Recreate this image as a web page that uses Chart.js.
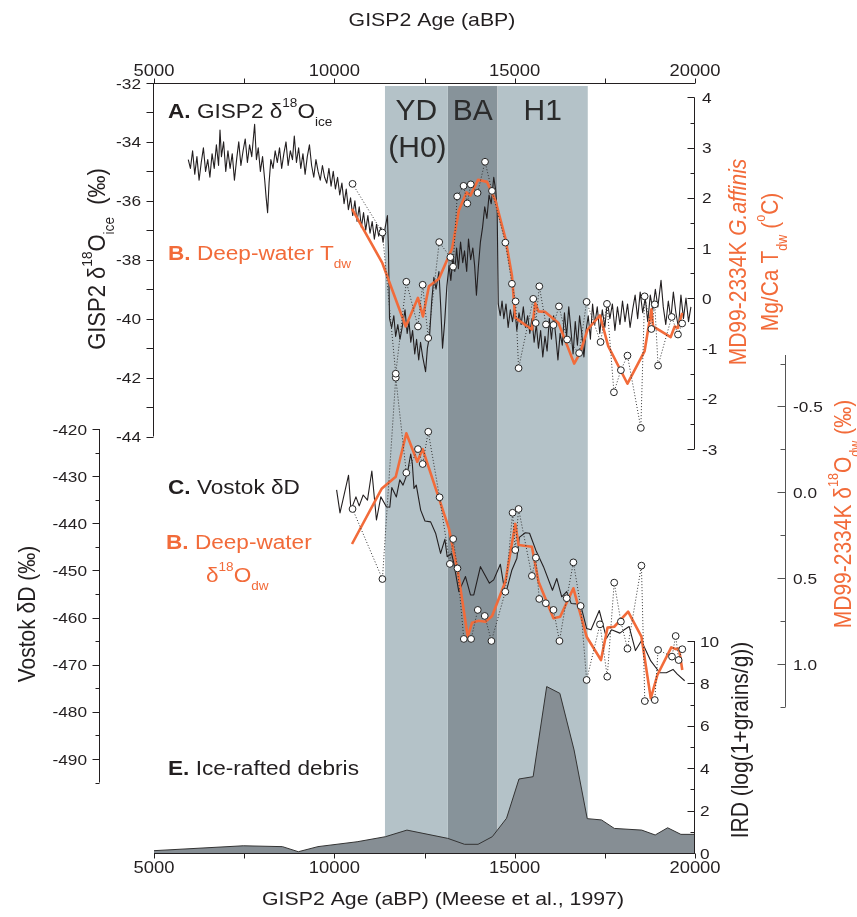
<!DOCTYPE html>
<html><head><meta charset="utf-8">
<script src="https://cdn.jsdelivr.net/npm/chart.js@4.4.1/dist/chart.umd.min.js"></script>
<style>html,body{margin:0;padding:0;background:#fff;}canvas{display:block;}</style>
</head><body>
<canvas id="c" width="857" height="917"></canvas>
<script>
// ---------------- DATA ----------------
const gisp2Age = [5950,6010,6070,6130,6190,6250,6310,6370,6430,6490,6550,6610,6670,6730,6790,6830,6870,6930,6990,7050,7110,7170,7230,7290,7350,7410,7470,7530,7590,7650,7710,7790,7840,7890,7950,8010,8070,8110,8150,8190,8240,8300,8360,8420,8480,8540,8600,8660,8720,8780,8840,8890,8950,9010,9070,9130,9190,9250,9310,9370,9430,9490,9550,9610,9670,9730,9790,9850,9910,9970,10030,
10090,10150,10210,10270,10330,10390,10450,10510,10570,10630,10690,10750,10810,10870,10930,10990,11050,11110,11170,11230,11290,11350,11410,
11472,11500,11530,11590,11650,11700,11760,11820,11880,11960,12020,12070,12120,12170,12230,12280,12340,12390,12450,12530,12580,12640,12700,12760,12820,12900,12950,13000,13060,13120,13180,13230,13290,13340,13390,13440,13500,13560,13610,13670,13720,13780,13840,13890,13940,13990,14050,14110,14170,14230,14290,14350,14420,14470,14515,14545,
14600,14650,14700,14760,14820,14880,14940,15000,15060,15120,15180,15240,15300,15360,15420,15480,15540,15600,15660,15720,15780,15840,15900,15960,16020,16080,16140,16200,16260,16320,16380,16440,16500,16560,16620,16680,16740,16800,16860,16920,16980,17040,17100,17160,17220,17290,17360,17430,17500,17570,17640,17710,17780,17850,17920,17990,18060,18130,18200,18270,18340,18410,18480,18550,18620,18690,18760,18830,18900,18970,19058,19120,19190,19260,19330,19400,19470,19540,19610,19680,19750,19820,19887];
const gisp2D18O = [-34.6,-34.9,-34.3,-35.1,-34.5,-35.3,-34.7,-34.2,-35.0,-34.6,-35.2,-34.4,-34.9,-34.1,-34.8,-33.6,-34.5,-34.0,-35.0,-34.3,-34.9,-34.4,-35.3,-34.6,-34.0,-34.8,-34.3,-33.9,-34.7,-34.1,-34.5,-33.4,-34.6,-34.2,-35.0,-34.5,-35.3,-35.9,-36.4,-35.4,-34.6,-34.9,-34.3,-34.7,-34.2,-34.9,-34.4,-34.0,-34.8,-34.3,-34.6,-33.8,-34.7,-34.2,-34.9,-34.4,-35.1,-34.5,-34.1,-34.8,-35.2,-34.6,-35.0,-35.3,-34.8,-35.2,-35.4,-34.9,-35.5,-35.0,-35.6,
-35.2,-35.8,-35.4,-36.1,-35.6,-36.3,-35.9,-36.5,-36.0,-36.7,-36.2,-36.9,-36.4,-37.0,-36.5,-37.1,-36.7,-37.3,-36.8,-37.2,-36.9,-37.4,-36.9,
-36.5,-37.6,-40.0,-40.3,-39.9,-40.6,-40.2,-40.7,-40.3,-39.7,-40.5,-40.1,-40.8,-40.4,-41.2,-40.7,-41.4,-40.8,-41.3,-41.8,-41.0,-40.6,-39.4,-38.6,-39.0,-38.4,-39.6,-41.0,-40.1,-38.9,-38.2,-38.7,-37.9,-38.4,-37.6,-38.3,-37.4,-38.1,-37.7,-38.4,-37.3,-38.0,-37.6,-38.2,-39.2,-38.3,-37.4,-36.9,-36.2,-36.6,-35.8,-36.1,-35.2,-35.6,-36.3,-39.5,
-39.9,-39.4,-40.0,-39.5,-40.3,-39.7,-40.1,-39.6,-40.4,-39.8,-40.2,-39.6,-40.3,-39.9,-40.5,-40.0,-40.8,-40.2,-41.0,-40.4,-41.3,-40.6,-41.1,-40.0,-40.7,-39.9,-40.6,-41.4,-40.5,-40.9,-39.8,-40.6,-39.6,-40.4,-41.2,-40.1,-40.9,-39.9,-40.5,-41.3,-40.4,-39.9,-40.7,-39.5,-40.2,-39.6,-40.5,-39.7,-40.3,-39.4,-40.0,-39.5,-40.4,-39.6,-40.2,-39.4,-40.1,-39.5,-40.3,-39.7,-39.2,-40.0,-39.1,-39.8,-39.3,-40.1,-39.2,-39.7,-39.0,-39.6,-38.7,-39.6,-40.2,-39.4,-40.0,-39.1,-39.8,-40.3,-39.2,-40.0,-39.3,-40.1,-39.6];

const vostokAge = [10063,10157,10322,10394,10460,10599,10690,10800,10919,11040,11168,11289,11444,11538,11593,11720,11814,11905,12024,12118,12162,12209,12272,12394,12513,12670,12808,12946,13065,13129,13250,13314,13452,13637,13775,13866,14051,14300,14418,14603,14742,14924,15062,15128,15294,15413,15587,15799,16048,16167,16305,16443,16565,16719,16841,16995,17117,17346,17548,17686,17918,18037,18175,18349,18514,18774,19023,19205,19390,19509,19713];
const vostokDD = [-432.9,-437.8,-432.2,-429.8,-437.2,-434.4,-436.3,-434.0,-435.1,-428.9,-439.3,-434.4,-436.5,-436.6,-432.4,-434.4,-430.8,-431.9,-429.4,-425.3,-427.3,-432.6,-431.9,-437.2,-439.5,-439.7,-442.1,-446.4,-443.4,-447.1,-446.4,-448.5,-454.5,-451.3,-455.2,-455.2,-449.2,-452.7,-452.0,-448.7,-455.2,-449.9,-447.4,-443.0,-442.0,-442.1,-445.7,-449.2,-454.2,-451.7,-455.6,-454.5,-457.0,-457.1,-457.7,-462.3,-462.6,-458.5,-464.4,-462.6,-463.3,-462.6,-461.9,-467.0,-464.9,-469.2,-471.7,-471.7,-471.0,-472.0,-473.4];

const tdwAge = [10505,11333,11703,11996,12319,12449,12604,12908,13217,13292,13405,13584,13687,13783,13971,14178,14371,14742,14924,15026,15109,15515,15584,15683,15868,16076,16228,16454,16788,16995,17382,17559,17752,17945,18128,18498,18603,18791,18885,18976,19354,19528,19644];
const tdwVal = [2.28,1.31,-1.50,0.33,-0.56,0.27,-0.79,1.12,0.82,0.63,2.03,2.24,1.89,2.27,2.10,2.72,2.14,1.11,0.29,-0.06,-1.39,-0.01,-0.49,0.24,-0.52,-0.53,-0.16,-0.82,-1.09,-0.07,-0.87,-0.11,-1.87,-1.43,-1.14,-2.58,0.04,-0.61,-0.12,-1.34,-0.37,-0.72,-0.50];

const tdwSmoothAge = [10490,11333,11980,12319,12457,12623,12900,13268,13452,13664,13775,13985,14233,14465,14741,14925,15017,15478,15571,15662,15847,16214,16650,16812,17022,17365,17594,18128,18603,18791,18838,19326,19437,19528,19644];
const tdwSmoothVal = [1.78,0.70,-0.56,0.01,-0.36,0.24,0.39,1.00,1.75,2.11,2.05,2.36,2.32,1.95,1.20,0.45,-0.39,-0.62,-0.10,-0.26,-0.27,-0.49,-1.30,-1.09,-0.62,-0.34,-0.95,-1.70,-1.05,-0.22,-0.56,-0.77,-0.56,-0.59,-0.29];

const d18Age = [10505,11333,11703,11996,12319,12449,12604,12918,13203,13295,13414,13590,13792,13977,14170,14355,14741,14942,15017,15109,15478,15588,15681,15864,16076,16242,16443,16628,16829,16995,17365,17567,17760,17945,18128,18515,18608,18885,18976,19362,19464,19547,19647];
const d18Val = [0.097,0.505,-0.668,-0.114,-0.252,-0.165,-0.353,0.029,0.417,0.272,0.443,0.854,0.854,0.685,0.720,0.866,0.579,0.119,0.336,0.097,0.487,0.381,0.621,0.646,0.685,0.866,0.617,0.408,0.662,1.093,0.769,1.074,0.526,0.753,0.911,0.427,1.216,1.210,0.918,0.957,0.837,0.977,0.914];

const d18SmoothAge = [10490,11318,11703,11996,12300,12449,13176,13433,13700,13819,14004,14190,14374,14742,15017,15109,15478,15662,16076,16261,16628,16995,17393,17576,17760,18146,18515,18774,18957,19342,19482,19556,19647];
const d18SmoothVal = [0.301,-0.023,-0.091,-0.344,-0.178,-0.252,0.210,0.472,0.841,0.759,0.748,0.754,0.720,0.521,0.184,0.307,0.317,0.521,0.734,0.725,0.559,0.841,0.977,0.788,0.783,0.695,0.841,1.200,1.064,0.903,0.914,0.909,1.035];

const irdAge = [5000,7475,8560,9002,9546,10632,11419,12013,13145,13610,13985,14380,14775,15120,15512,15888,16253,16647,17012,17407,17763,18523,18896,19241,19608,20000];
const irdVal = [0.11,0.34,0.30,0.06,0.30,0.53,0.77,1.08,0.69,0.41,0.41,0.77,1.64,3.49,3.60,7.85,7.53,4.86,1.62,1.56,1.16,1.08,0.85,1.19,0.88,0.88];

const bandNames = ['YD', 'BA', 'H1'];
const bandStart = [11400, 13150, 14530];
const bandEnd = [13150, 14530, 17030];

const xTicks = [5000, 7500, 10000, 12500, 15000, 17500, 20000];
const xTickLabels = ['5000', '', '10000', '', '15000', '', '20000'];
const gisp2Ticks = [-32, -34, -36, -38, -40, -42, -44];
const gisp2Minor = [-33, -35, -37, -39, -41, -43];
const tdwTicks = [4, 3, 2, 1, 0, -1, -2, -3];
const tdwMinor = [3.5, 2.5, 1.5, 0.5, -0.5, -1.5, -2.5];
const d18Ticks = [-0.5, 0.0, 0.5, 1.0];
const d18TickLabels = ['-0.5', '0.0', '0.5', '1.0'];
const d18Minor = [-0.75, -0.25, 0.25, 0.75, 1.25];
const vostokTicks = [-420, -430, -440, -450, -460, -470, -480, -490];
const vostokMinor = [-425, -435, -445, -455, -465, -475, -485, -495];
const irdTicks = [0, 2, 4, 6, 8, 10];
const irdMinor = [1, 3, 5, 7, 9];

// ---------------- LAYOUT / STYLE ----------------
const W = 857, H = 917;
const TOP = 83, BOTTOM = 853, LEFT = 154, RIGHT = 695;
const INK = '#231f20';
const ORANGE = '#f26b3a';
const FONT = '"Liberation Sans", Arial, Helvetica, sans-serif';
const BAND_COLORS = ['#b4c2c8', '#87939a', '#b4c2c8'];

function rangeFor(v1, p1, v2, p2) {
  const k = (v2 - v1) / (p2 - p1);
  const a = v1 + (TOP - p1) * k, b = v1 + (BOTTOM - p1) * k;
  return { min: Math.min(a, b), max: Math.max(a, b), reverse: k > 0 };
}
const pts = (xs, ys) => xs.map((x, i) => ({ x: x, y: ys[i] }));

function rich(ctx, parts, x, y, o) {
  const size = o.size, sx = o.sx || 1, ss = o.ss || 0.6;
  const fontOf = p => {
    const sz = (p.sub || p.sup) ? size * ss : size;
    return (p.italic ? 'italic ' : '') + (p.bold ? 'bold ' : '') + sz + 'px ' + FONT;
  };
  ctx.save();
  ctx.translate(x, y);
  ctx.scale(sx, 1);
  if (o.rot) ctx.rotate(o.rot);
  let w = 0;
  parts.forEach(p => { ctx.font = fontOf(p); p.w = ctx.measureText(p.t).width; w += p.w; });
  let cx = o.align === 'center' ? -w / 2 : (o.align === 'right' ? -w : 0);
  ctx.textAlign = 'left';
  ctx.textBaseline = 'alphabetic';
  parts.forEach(p => {
    ctx.font = fontOf(p);
    ctx.fillStyle = p.color || o.color || INK;
    const dy = p.sup ? -size * 0.55 : (p.sub ? size * 0.38 : 0);
    ctx.fillText(p.t, cx, dy);
    cx += p.w;
  });
  ctx.restore();
}
function txt(ctx, s, x, y, o) { rich(ctx, [{ t: s }], x, y, o); }

function drawYAxis(ctx, sc, o) {
  ctx.save();
  ctx.strokeStyle = o.color || INK;
  ctx.lineWidth = 1;
  ctx.beginPath();
  ctx.moveTo(o.x, sc.getPixelForValue(o.from));
  ctx.lineTo(o.x, sc.getPixelForValue(o.to));
  o.minors.forEach(v => {
    const py = Math.round(sc.getPixelForValue(v)) + 0.5;
    ctx.moveTo(o.x, py); ctx.lineTo(o.x + o.dir * o.minLen, py);
  });
  o.majors.forEach(v => {
    const py = Math.round(sc.getPixelForValue(v)) + 0.5;
    ctx.moveTo(o.x, py); ctx.lineTo(o.x + o.dir * o.majLen, py);
  });
  ctx.stroke();
  ctx.restore();
  o.majors.forEach((v, i) => {
    const lab = o.labels ? o.labels[i] : String(v);
    txt(ctx, lab, o.labelX, sc.getPixelForValue(v) + 5.5, { size: 15, sx: 1.15, align: o.align, color: INK });
  });
}

function drawXAxis(ctx, xs, y, dir, labelY) {
  ctx.save();
  ctx.strokeStyle = INK; ctx.lineWidth = 1;
  ctx.beginPath();
  ctx.moveTo(xs.getPixelForValue(xTicks[0]), y);
  ctx.lineTo(xs.getPixelForValue(xTicks[xTicks.length - 1]), y);
  xTicks.forEach(v => {
    const px = Math.round(xs.getPixelForValue(v)) + 0.5;
    ctx.moveTo(px, y); ctx.lineTo(px, y + dir * 5);
  });
  ctx.stroke();
  ctx.restore();
  xTicks.forEach((v, i) => {
    if (xTickLabels[i]) txt(ctx, xTickLabels[i], xs.getPixelForValue(v), labelY, { size: 16, sx: 1.15, align: 'center' });
  });
}

const decor = {
  id: 'decor',
  afterDatasetsDraw(chart) {
    const ctx = chart.ctx, s = chart.scales;
    // x axes
    drawXAxis(ctx, s.x, TOP + 0.5, -1, 76);
    drawXAxis(ctx, s.x, BOTTOM + 0.5, 1, 873);
    // y axes
    drawYAxis(ctx, s.yA, { x: LEFT - 0.5, from: -44, to: -32, majors: gisp2Ticks, minors: gisp2Minor, dir: -1, majLen: 7, minLen: 7, labelX: 141, align: 'right' });
    drawYAxis(ctx, s.yB, { x: RIGHT - 0.5, from: -3, to: 4, majors: tdwTicks, minors: tdwMinor, dir: -1, majLen: 7, minLen: 4, labelX: 702, align: 'left' });
    drawYAxis(ctx, s.yD, { x: 785.5, from: -0.8, to: 1.25, majors: d18Ticks, labels: d18TickLabels, minors: d18Minor, dir: -1, majLen: 8, minLen: 5, labelX: 793, align: 'left', color: '#555' });
    drawYAxis(ctx, s.yC, { x: 99.5, from: -495, to: -420, majors: vostokTicks, minors: vostokMinor, dir: -1, majLen: 7, minLen: 4, labelX: 87, align: 'right' });
    drawYAxis(ctx, s.yE, { x: RIGHT - 0.5, from: 0, to: 10, majors: irdTicks, minors: irdMinor, dir: -1, majLen: 7, minLen: 4, labelX: 700, align: 'left' });

    // axis titles
    txt(ctx, 'GISP2 Age (aBP)', 432, 26, { size: 19, sx: 1.12, align: 'center' });
    txt(ctx, 'GISP2 Age (aBP) (Meese et al., 1997)', 443, 905, { size: 19, sx: 1.12, align: 'center' });
    const R = -Math.PI / 2;
    rich(ctx, [{ t: 'GISP2 \u03b4' }, { t: '18', sup: true }, { t: 'O' }, { t: 'ice', sub: true }, { t: '  (\u2030)' }], 105, 259, { size: 22, sx: 1.1, ss: 0.62, rot: R, align: 'center' });
    rich(ctx, [{ t: 'Vostok \u03b4D (\u2030)' }], 35, 614, { size: 21, sx: 1.1, rot: R, align: 'center' });
    rich(ctx, [{ t: 'MD99-2334K ' }, { t: 'G.affinis', italic: true }], 746, 262, { size: 21, sx: 1.1, rot: R, align: 'center', color: ORANGE });
    rich(ctx, [{ t: 'Mg/Ca T' }, { t: 'dw', sub: true }, { t: ' (' }, { t: 'o', sup: true }, { t: 'C)' }], 778, 262, { size: 21, sx: 1.1, rot: R, align: 'center', color: ORANGE });
    rich(ctx, [{ t: 'MD99-2334K \u03b4' }, { t: '18', sup: true }, { t: 'O' }, { t: 'dw', sub: true }, { t: ' (\u2030)' }], 851, 514, { size: 21, sx: 1.1, rot: R, align: 'center', color: ORANGE });
    rich(ctx, [{ t: 'IRD (log(1+grains/g))' }], 748, 740, { size: 21, sx: 1.1, rot: R, align: 'center' });

    // panel labels
    const P = { size: 20, sx: 1.13 };
    rich(ctx, [{ t: 'A.', bold: true }, { t: ' GISP2 \u03b4' }, { t: '18', sup: true }, { t: 'O' }, { t: 'ice', sub: true }], 168, 118, P);
    rich(ctx, [{ t: 'B.', bold: true }, { t: ' Deep-water T' }, { t: 'dw', sub: true }], 168, 260, Object.assign({ color: ORANGE }, P));
    rich(ctx, [{ t: 'C.', bold: true }, { t: ' Vostok \u03b4D' }], 168, 494, P);
    rich(ctx, [{ t: 'B.', bold: true }, { t: ' Deep-water' }], 166, 549, Object.assign({ color: ORANGE }, P));
    rich(ctx, [{ t: '\u03b4' }, { t: '18', sup: true }, { t: 'O' }, { t: 'dw', sub: true }], 206, 582, Object.assign({ color: ORANGE }, P));
    rich(ctx, [{ t: 'E.', bold: true }, { t: ' Ice-rafted debris' }], 168, 775, P);

    // band labels
    bandNames.forEach((n, i) => {
      const cx = s.x.getPixelForValue((bandStart[i] + bandEnd[i]) / 2);
      txt(ctx, n, cx, 120, { size: 30, align: 'center', color: '#2b2b2b' });
      if (n === 'YD') txt(ctx, '(H0)', cx + 1, 157, { size: 30, align: 'center', color: '#2b2b2b' });
    });
  }
};

// ---------------- CHART ----------------
const bandSets = bandNames.map((n, i) => ({
  label: n, data: [{ x: bandStart[i], y: 1 }, { x: bandEnd[i], y: 1 }], yAxisID: 'yBand',
  borderWidth: 0, borderColor: 'rgba(0,0,0,0)', backgroundColor: BAND_COLORS[i], fill: 'start', pointRadius: 0, order: 5
}));

new Chart(document.getElementById('c'), {
  type: 'line',
  data: {
    datasets: [
      { label: 'Tdw', data: pts(tdwAge, tdwVal), yAxisID: 'yB', borderColor: '#333', borderWidth: 1, borderDash: [1, 2],
        pointRadius: 3.4, pointBackgroundColor: '#fff', pointBorderColor: '#222', pointBorderWidth: 1, order: 0 },
      { label: 'd18Odw', data: pts(d18Age, d18Val), yAxisID: 'yD', borderColor: '#333', borderWidth: 1, borderDash: [1, 2],
        pointRadius: 3.4, pointBackgroundColor: '#fff', pointBorderColor: '#222', pointBorderWidth: 1, order: 0 },
      { label: 'Tdw smooth', data: pts(tdwSmoothAge, tdwSmoothVal), yAxisID: 'yB', borderColor: ORANGE, borderWidth: 2.6, pointRadius: 0, order: 1 },
      { label: 'd18Odw smooth', data: pts(d18SmoothAge, d18SmoothVal), yAxisID: 'yD', borderColor: ORANGE, borderWidth: 2.6, pointRadius: 0, order: 1 },
      { label: 'GISP2', data: pts(gisp2Age, gisp2D18O), yAxisID: 'yA', borderColor: INK, borderWidth: 1.1, pointRadius: 0, order: 2 },
      { label: 'Vostok', data: pts(vostokAge, vostokDD), yAxisID: 'yC', borderColor: INK, borderWidth: 1.1, pointRadius: 0, order: 2 },
      { label: 'IRD', data: pts(irdAge, irdVal), yAxisID: 'yE', borderColor: '#333', borderWidth: 1, backgroundColor: '#868e94', fill: 'origin', pointRadius: 0, order: 3 }
    ].concat(bandSets)
  },
  options: {
    responsive: false, animation: false, devicePixelRatio: 1,
    layout: { padding: { left: LEFT, right: W - RIGHT, top: TOP, bottom: H - BOTTOM } },
    plugins: { legend: { display: false }, tooltip: { enabled: false } },
    elements: { line: { tension: 0, borderJoinStyle: 'round' } },
    scales: {
      x: { type: 'linear', min: 5000, max: 20000, display: false },
      yA: Object.assign({ type: 'linear', display: false }, rangeFor(-32, 83, -44, 436.5)),
      yB: Object.assign({ type: 'linear', display: false }, rangeFor(4, 97.5, -3, 449)),
      yD: Object.assign({ type: 'linear', display: false }, rangeFor(-0.5, 406.5, 1.0, 664)),
      yC: Object.assign({ type: 'linear', display: false }, rangeFor(-420, 429, -490, 759)),
      yE: Object.assign({ type: 'linear', display: false }, rangeFor(0, 853, 10, 641)),
      yBand: Object.assign({ type: 'linear', display: false }, rangeFor(0, 853, 1, 86))
    }
  },
  plugins: [decor]
});
</script>
</body></html>
